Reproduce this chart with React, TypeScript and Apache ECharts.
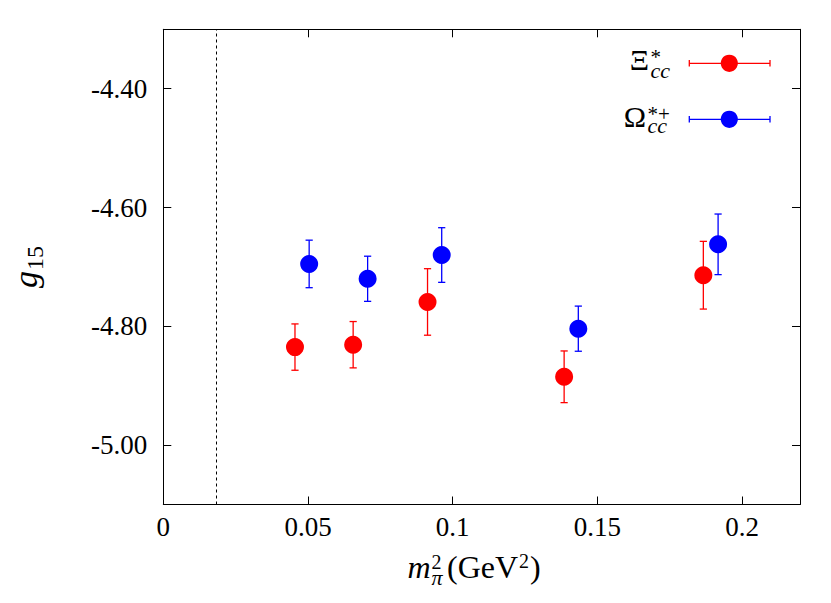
import React, { useEffect, useRef } from "react";
import * as echarts from "echarts";

// Ξ*cc data
const xiX = [0.0455, 0.0656, 0.0913, 0.1385, 0.1866];
const xiG = [-4.835, -4.831, -4.759, -4.885, -4.714];
const xiErr = [0.039, 0.039, 0.056, 0.0435, 0.057];
// Ω*+cc data
const omX = [0.0504, 0.0706, 0.0962, 0.1434, 0.1917];
const omG = [-4.695, -4.72, -4.68, -4.804, -4.662];
const omErr = [0.04, 0.038, 0.046, 0.038, 0.051];

const xTicks = [0, 0.05, 0.1, 0.15, 0.2];
const yTicks = [-5.0, -4.8, -4.6, -4.4];
const physMpi2 = 0.0182;

const FONT = "Liberation Serif";
const RED = "#ff0000";
const BLUE = "#0000ff";

function errSeries(xs: number[], ys: number[], es: number[], color: string) {
  return {
    type: "custom",
    silent: true,
    z: 2,
    data: xs.map((x, i) => [x, ys[i], es[i]]),
    renderItem: (params: any, api: any) => {
      const x = api.value(0);
      const y = api.value(1);
      const e = api.value(2);
      const top = api.coord([x, y + e]);
      const bot = api.coord([x, y - e]);
      const hw = 3.6;
      const st = { stroke: color, lineWidth: 1.3 };
      return {
        type: "group",
        children: [
          { type: "line", shape: { x1: top[0], y1: top[1], x2: bot[0], y2: bot[1] }, style: st },
          { type: "line", shape: { x1: top[0] - hw, y1: top[1], x2: top[0] + hw, y2: top[1] }, style: st },
          { type: "line", shape: { x1: bot[0] - hw, y1: bot[1], x2: bot[0] + hw, y2: bot[1] }, style: st },
        ],
      };
    },
  };
}

function supSub(x: number, y: number, sup: string, sub: string, supSize: number, subSize: number, l1: number, l2: number, subItalic = true) {
  return {
    type: "text",
    x,
    y,
    style: {
      text: `{a|${sup}}\n{b|${sub}}`,
      align: "left",
      verticalAlign: "top",
      fill: "#000",
      rich: {
        a: { fontFamily: FONT, fontSize: supSize, lineHeight: l1, fill: "#000" },
        b: { fontFamily: FONT, fontSize: subSize, lineHeight: l2, fontStyle: subItalic ? "italic" : "normal", fill: "#000" },
      },
    },
  };
}

export default function App() {
  const ref = useRef<HTMLDivElement>(null);
  useEffect(() => {
    if (!ref.current) return;
    const chart = echarts.init(ref.current, null, { renderer: "svg" });
    const axisLine = { show: true, onZero: false, lineStyle: { color: "#000", width: 1 } };
    const legendItem = (cy: number, color: string) => [
      { type: "line", shape: { x1: 689.3, y1: cy, x2: 770, y2: cy }, style: { stroke: color, lineWidth: 1.3 } },
      { type: "line", shape: { x1: 689.3, y1: cy - 3.3, x2: 689.3, y2: cy + 3.3 }, style: { stroke: color, lineWidth: 1.3 } },
      { type: "line", shape: { x1: 770, y1: cy - 3.3, x2: 770, y2: cy + 3.3 }, style: { stroke: color, lineWidth: 1.3 } },
      { type: "circle", shape: { cx: 729.3, cy, r: 8.6 }, style: { fill: color } },
    ];
    const tickStyle = { show: true, inside: true, length: 8, lineStyle: { color: "#000" } };
    chart.setOption({
      animation: false,
      backgroundColor: "#fff",
      grid: { left: 163.3, right: 31, top: 29.3, bottom: 98.5, containLabel: false },
      xAxis: [
        {
          type: "value",
          min: 0,
          max: 0.22,
          interval: 0.05,
          position: "bottom",
          axisLine,
          splitLine: { show: false },
          axisTick: { ...tickStyle, customValues: xTicks },
          axisLabel: {
            customValues: xTicks,
            margin: 9,
            fontFamily: FONT,
            fontSize: 27,
            color: "#000",
            formatter: (v: number) => String(v),
          },
        },
        {
          type: "value",
          min: 0,
          max: 0.22,
          interval: 0.05,
          position: "top",
          axisLine,
          splitLine: { show: false },
          axisTick: { ...tickStyle, customValues: xTicks },
          axisLabel: { show: false },
        },
      ],
      yAxis: [
        {
          type: "value",
          min: -5.1,
          max: -4.3,
          interval: 0.1,
          position: "left",
          axisLine,
          splitLine: { show: false },
          axisTick: { ...tickStyle, customValues: yTicks },
          axisLabel: {
            customValues: yTicks,
            margin: 16,
            fontFamily: FONT,
            fontSize: 27,
            color: "#000",
            formatter: (v: number) => v.toFixed(2),
          },
        },
        {
          type: "value",
          min: -5.1,
          max: -4.3,
          interval: 0.1,
          position: "right",
          axisLine,
          splitLine: { show: false },
          axisTick: { ...tickStyle, customValues: yTicks },
          axisLabel: { show: false },
        },
      ],
      series: [
        {
          type: "line",
          name: "phys",
          data: [],
          silent: true,
          markLine: {
            silent: true,
            symbol: "none",
            precision: 5,
            label: { show: false },
            lineStyle: { color: "#000", width: 1, type: [3, 3] },
            data: [{ xAxis: physMpi2 }],
          },
        },
        errSeries(xiX, xiG, xiErr, RED),
        {
          type: "scatter",
          name: "Xi",
          symbol: "circle",
          symbolSize: 18,
          z: 3,
          itemStyle: { color: RED, opacity: 1 },
          data: xiX.map((x, i) => [x, xiG[i]]),
        },
        errSeries(omX, omG, omErr, BLUE),
        {
          type: "scatter",
          name: "Omega",
          symbol: "circle",
          symbolSize: 18,
          z: 3,
          itemStyle: { color: BLUE, opacity: 1 },
          data: omX.map((x, i) => [x, omG[i]]),
        },
      ],
      graphic: [
        // legend
        ...legendItem(63.3, RED),
        ...legendItem(119.3, BLUE),
        { type: "text", x: 649, y: 59.5, style: { text: "Ξ", fontFamily: FONT, fontSize: 30, fill: "#000", align: "right", verticalAlign: "middle" } },
        supSub(650.5, 50.5, "*", "cc", 21, 22, 13, 14),
        { type: "text", x: 646, y: 116.5, style: { text: "Ω", fontFamily: FONT, fontSize: 30, fill: "#000", align: "right", verticalAlign: "middle" } },
        supSub(647.5, 108, "*+", "cc", 21, 22, 12, 11),
        // x-axis title
        { type: "text", x: 430.5, y: 567, style: { text: "m", fontFamily: FONT, fontStyle: "italic", fontSize: 32, fill: "#000", align: "right", verticalAlign: "middle" } },
        supSub(431.5, 554.5, "2", "π", 20, 22, 15, 15),
        { type: "text", x: 447, y: 567, style: { text: "(GeV", fontFamily: FONT, fontSize: 32, fill: "#000", align: "left", verticalAlign: "middle" } },
        { type: "text", x: 519, y: 561, style: { text: "2", fontFamily: FONT, fontSize: 20, fill: "#000", align: "left", verticalAlign: "middle" } },
        { type: "text", x: 530, y: 567, style: { text: ")", fontFamily: FONT, fontSize: 32, fill: "#000", align: "left", verticalAlign: "middle" } },
        // y-axis title (rotated)
        {
          type: "group",
          x: 25,
          y: 270,
          rotation: Math.PI / 2,
          children: [
            { type: "text", x: -1, y: 0, style: { text: "g", fontFamily: FONT, fontStyle: "italic", fontSize: 34, fill: "#000", align: "right", verticalAlign: "middle" } },
            { type: "text", x: 0, y: 9.5, style: { text: "15", fontFamily: FONT, fontSize: 24, fill: "#000", align: "left", verticalAlign: "middle" } },
          ],
        },
      ],
    });
    return () => chart.dispose();
  }, []);
  return <div ref={ref} style={{ position: "absolute", left: 0, top: 0, width: 831, height: 603 }} />;
}
